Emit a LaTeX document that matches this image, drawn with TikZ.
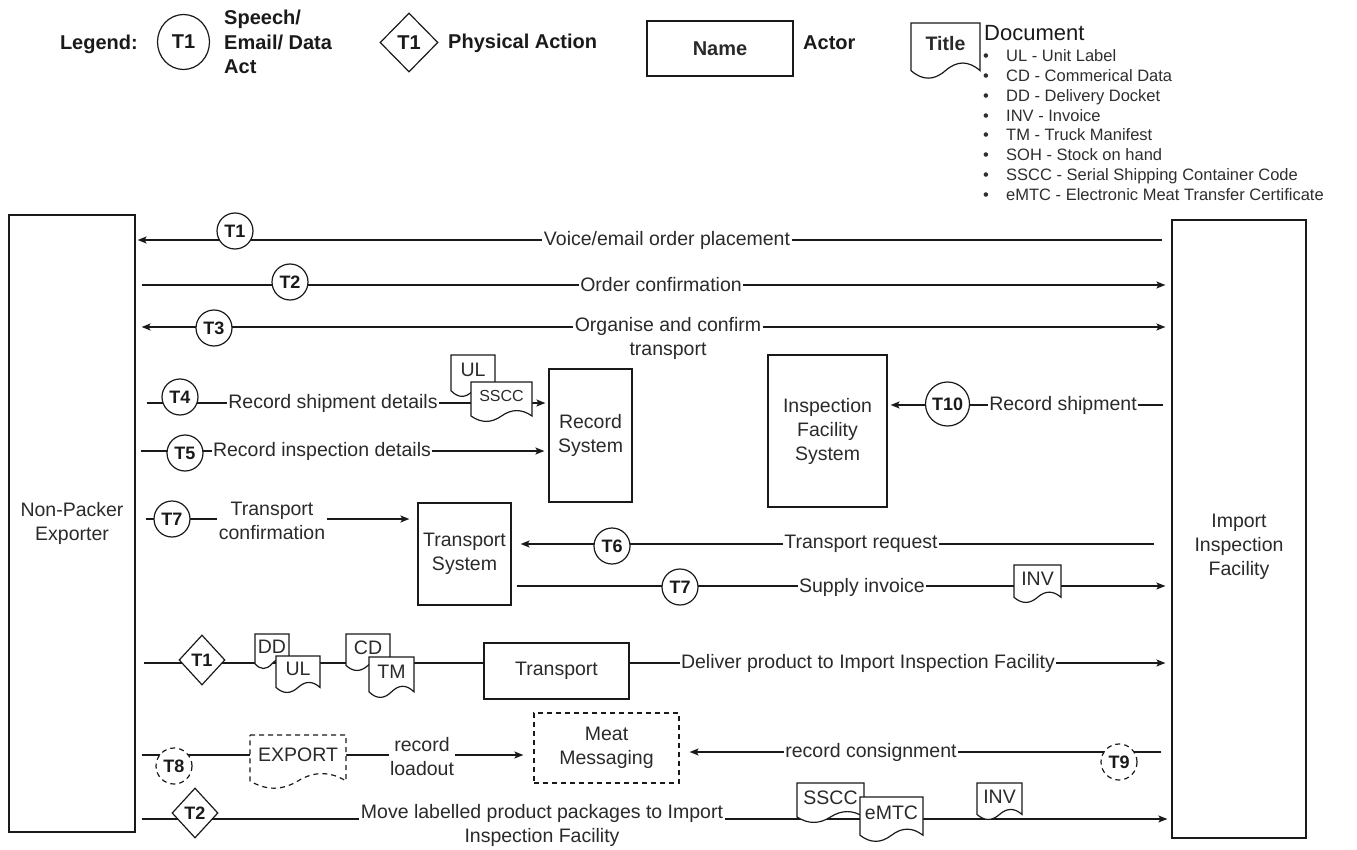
\documentclass[tikz,border=0pt]{standalone}
\usepackage{fontspec}
\setmainfont{Liberation Sans}
\usetikzlibrary{arrows.meta,shapes.geometric}
\pgfdeclarelayer{bg}
\pgfsetlayers{bg,main}
\definecolor{ink}{HTML}{1A1A1A}
\definecolor{textink}{HTML}{2A2A2A}
\definecolor{listink}{HTML}{2E2E2E}
\newcommand{\mainfont}{\fontsize{19.5pt}{24pt}\selectfont}
\newcommand{\legfont}{\fontsize{20pt}{24.5pt}\selectfont\bfseries}
\newcommand{\tfont}{\fontsize{18pt}{20pt}\selectfont\bfseries}
\newcommand{\smallfont}{\fontsize{16pt}{18pt}\selectfont}
\newcommand{\mydoc}[7][]{%
  \draw[docline,#1] (#3,#4) -- ({#3+#5},#4) -- ({#3+#5},{#4+0.85*#6})
     .. controls ({#3+0.833*#5},{#4+0.67*#6}) and ({#3+0.667*#5},{#4+0.67*#6}) .. ({#3+0.5*#5},{#4+0.85*#6})
     .. controls ({#3+0.333*#5},{#4+1.03*#6}) and ({#3+0.167*#5},{#4+1.03*#6}) .. (#3,{#4+0.85*#6}) -- cycle;
  \node[doctext] (#2) at ({#3+0.5*#5},{#4+0.36*#6}) {#7};
}
\tikzset{
  conn/.style={draw=ink, line width=1.2pt},
  arr/.style={conn, -{Stealth[length=9pt,width=7pt,inset=2pt]}},
  arrboth/.style={conn, {Stealth[length=9pt,width=7pt,inset=2pt]}-{Stealth[length=9pt,width=7pt,inset=2pt]}},
  docline/.style={draw=ink, line width=1.2pt, fill=white},
  doctext/.style={font=\mainfont, text=textink, inner sep=0pt},
  actor/.style={rectangle, draw=ink, line width=1.2pt, inner sep=0pt, font=\mainfont, text=textink, align=center},
  txt/.style={font=\mainfont, text=textink, align=center, inner sep=0pt},
  tcirc/.style={circle, draw=ink, line width=1.2pt, fill=white, inner sep=0pt, minimum size=36pt, font=\tfont, text=ink},
  tdia/.style={diamond, draw=ink, line width=1.2pt, fill=white, inner sep=0pt, minimum width=46pt, minimum height=50pt, font=\tfont, text=ink},
  lbl/.style={fill=white, inner sep=1.5pt, font=\mainfont, text=textink, align=center},
  lgbold/.style={font=\legfont, text=ink, inner sep=0pt},
  dashy/.style={dash pattern=on 5pt off 4pt}
}
\begin{document}
\begin{tikzpicture}[x=1pt,y=-1pt]
\useasboundingbox (0,0) rectangle (1357,850);

% ---------------- Legend ----------------
\node[lgbold, anchor=east] (lg) at (138,44) {Legend:};
\node[ellipse, draw=ink, line width=1.2pt, fill=white, inner sep=0pt, minimum width=52pt, minimum height=55pt, font=\legfont, text=ink] (lgc) at (183.5,42) {T1};
\node[lgbold, anchor=west, align=left] (lgct) at (224,42) {Speech/\\Email/ Data\\Act};
\node[tdia, minimum width=58pt, minimum height=59pt, font=\legfont] (lgd) at (409,42.5) {T1};
\node[lgbold, anchor=west] (lgdt) at (448,43) {Physical Action};
\node[actor, minimum width=146pt, minimum height=55pt, font=\legfont] (lgn) at (720,48.5) {Name};
\node[lgbold, anchor=west] (lga) at (803,43) {Actor};
\mydoc{lgt}{911}{23}{69}{56}{\bfseries Title}
\node[anchor=west, inner sep=0pt, font=\fontsize{22pt}{24pt}\selectfont, text=ink] (lgdoc) at (984,33) {Document};
\node[anchor=west, inner sep=0pt, align=left, text=listink, font=\fontsize{16.5pt}{19.75pt}\selectfont] (lglist) at (983,125)
 {\makebox[23pt][l]{•}UL - Unit Label\\
  \makebox[23pt][l]{•}CD - Commerical Data\\
  \makebox[23pt][l]{•}DD - Delivery Docket\\
  \makebox[23pt][l]{•}INV - Invoice\\
  \makebox[23pt][l]{•}TM - Truck Manifest\\
  \makebox[23pt][l]{•}SOH - Stock on hand\\
  \makebox[23pt][l]{•}SSCC - Serial Shipping Container Code\\
  \makebox[23pt][l]{•}eMTC - Electronic Meat Transfer Certificate};

% ---------------- Actors / systems ----------------
\node[actor, minimum width=126pt, minimum height=617pt] (npe) at (72,523.5) {Non-Packer\\Exporter};
\node[actor, minimum width=134pt, minimum height=618pt] (iif) at (1239,529) {};
\node[txt] (iiftext) at (1239,547) {Import\\Inspection\\Facility};
\node[actor, minimum width=83pt, minimum height=133pt] (recsys) at (590.5,435.5) {Record\\System};
\node[actor, minimum width=119pt, minimum height=152pt] (ifs) at (827.5,431) {Inspection\\Facility\\System};
\node[actor, minimum width=93pt, minimum height=102pt] (ts) at (464.5,554) {Transport\\System};
\node[actor, minimum width=145pt, minimum height=56pt] (trans) at (556.5,671) {Transport};
\node[actor, dashy, minimum width=145pt, minimum height=70pt] (mm) at (606.5,748) {Meat\\Messaging};

% ---------------- Row coordinates ----------------
\coordinate (r1) at (0,240);
\coordinate (r2) at (0,285);
\coordinate (r3) at (0,327);
\coordinate (r4) at (0,403);
\coordinate (r5) at (0,451);
\coordinate (r10) at (0,405);
\coordinate (r7a) at (0,519);
\coordinate (r6) at (0,544);
\coordinate (r7b) at (0,586);
\coordinate (rt) at (0,663);
\coordinate (r8) at (0,755);
\coordinate (r9) at (0,752);
\coordinate (rm) at (0,819);

% ---------------- Documents ----------------
\mydoc{ul1}{451}{355}{44}{42}{UL}
\mydoc{sscc1}{471}{382}{61}{40}{\smallfont SSCC}
\mydoc{inv1}{1014}{565}{47}{38}{INV}
\mydoc{dd}{255}{634}{34}{35}{DD}
\mydoc{ul2}{276}{656}{44}{37}{UL}
\mydoc{cd}{346}{634}{44}{37}{CD}
\mydoc{tm}{369}{657}{45}{41}{TM}
\mydoc[dashy]{exp}{250}{735}{96}{54}{EXPORT}
\mydoc{sscc2}{797}{783}{67}{40}{SSCC}
\mydoc{emtc}{860}{797}{63}{45}{eMTC}
\mydoc{inv2}{977}{783}{45}{37}{INV}

% ---------------- Transaction markers ----------------
\node[tcirc] (c1) at (235,231) {T1};
\node[tcirc] (c2) at (290,282) {T2};
\node[tcirc] (c3) at (214,328) {T3};
\node[tcirc] (c4) at (180,397) {T4};
\node[tcirc] (c5) at (185,453) {T5};
\node[tcirc, minimum size=44pt] (c10) at (947.5,404) {T10};
\node[tcirc] (c7a) at (172,519) {T7};
\node[tcirc] (c6) at (612,546) {T6};
\node[tcirc] (c7b) at (680,587) {T7};
\node[tcirc, dashy] (c8) at (174,766) {T8};
\node[tcirc, dashy] (c9) at (1119,762) {T9};
\node[tdia] (d1) at (202,660) {T1};
\node[tdia] (d2) at (195,813) {T2};

% ---------------- Labels ----------------
\node[lbl] (l1) at (667,240) {Voice/email order placement};
\node[lbl] (l2) at (661,285) {Order confirmation};
\node[lbl] (l3) at (668,338) {Organise and confirm\\transport};
\node[lbl] (l4) at (333,403) {Record shipment details};
\node[lbl] (l5) at (322,451) {Record inspection details};
\node[lbl] (l10) at (1063,405) {Record shipment};
\node[lbl] (l7a) at (272,521) {Transport\\confirmation};
\node[lbl] (l6) at (861,544) {Transport request};
\node[lbl] (l7b) at (862,587) {Supply invoice};
\node[lbl] (ld) at (868,663) {Deliver product to Import Inspection Facility};
\node[lbl] (l8) at (422,757) {record\\loadout};
\node[lbl] (l9) at (871,752) {record consignment};
\node[lbl] (lmove) at (542,825) {Move labelled product packages to Import\\Inspection Facility};

% ---------------- Connectors ----------------
\begin{pgfonlayer}{bg}
\draw[arr, shorten <=9pt, shorten >=2pt] (iif.west |- r1) -- (npe.east |- r1);
\draw[arr, shorten <=6pt, shorten >=6pt] (npe.east |- r2) -- (iif.west |- r2);
\draw[arrboth, shorten <=6pt, shorten >=6pt] (npe.east |- r3) -- (iif.west |- r3);
\draw[arr, shorten <=11pt, shorten >=3pt] (npe.east |- r4) -- (recsys.west |- r4);
\draw[arr, shorten <=5pt, shorten >=4pt] (npe.east |- r5) -- (recsys.west |- r5);
\draw[arr, shorten <=8pt, shorten >=3pt] (iif.west |- r10) -- (ifs.east |- r10);
\draw[arr, shorten <=10pt, shorten >=8pt] (npe.east |- r7a) -- (ts.west |- r7a);
\draw[arr, shorten <=17pt, shorten >=9pt] (iif.west |- r6) -- (ts.east |- r6);
\draw[arr, shorten <=5pt, shorten >=6pt] (ts.east |- r7b) -- (iif.west |- r7b);
\draw[conn, shorten <=8pt] (npe.east |- rt) -- (trans.west |- rt);
\draw[arr, shorten >=6pt] (trans.east |- rt) -- (iif.west |- rt);
\draw[arr, shorten <=6pt, shorten >=10pt] (npe.east |- r8) -- (mm.west |- r8);
\draw[arr, shorten <=10pt, shorten >=10pt] (iif.west |- r9) -- (mm.east |- r9);
\draw[arr, shorten <=6pt, shorten >=4pt] (npe.east |- rm) -- (iif.west |- rm);
\end{pgfonlayer}
\end{tikzpicture}
\end{document}
